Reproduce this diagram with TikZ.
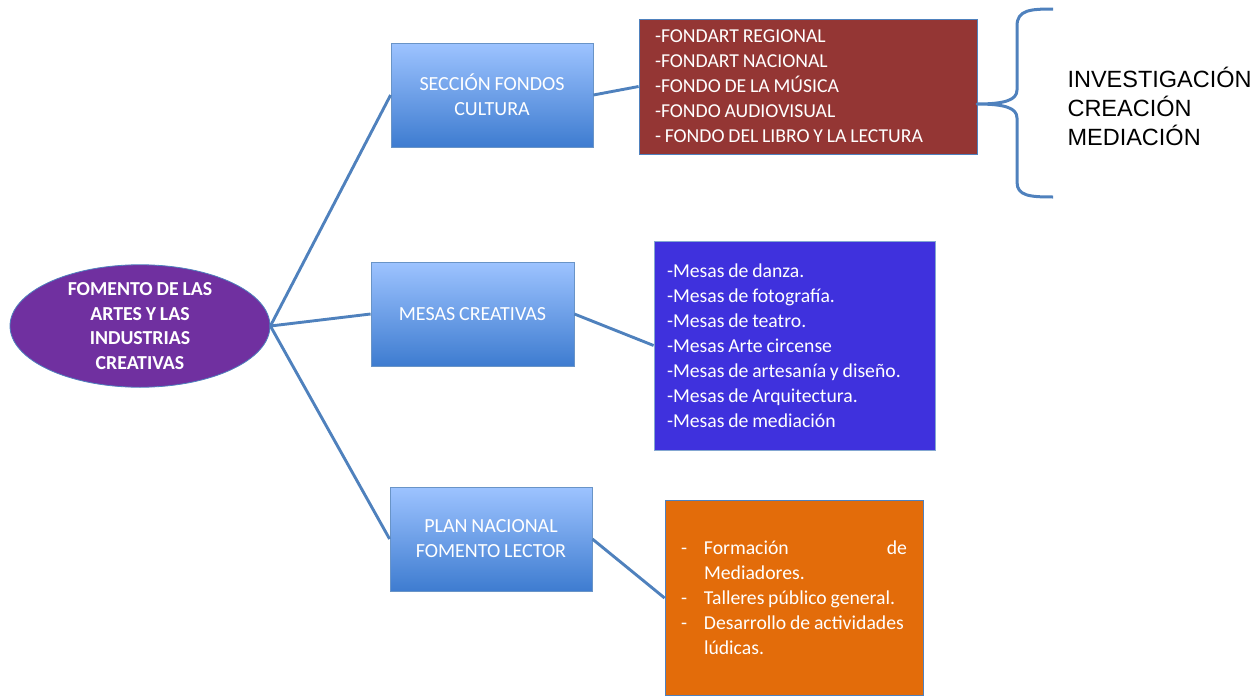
\documentclass[tikz,border=0pt]{standalone}
\usepackage{fontspec}
\setmainfont{Carlito}[WordSpace=0.85]
\newfontfamily\arialfont{Liberation Sans}
\usetikzlibrary{shapes.geometric}
\definecolor{linkblue}{HTML}{4F81BD}
\definecolor{boxtop}{HTML}{9DC3FF}
\definecolor{boxbot}{HTML}{3E7CD0}
\definecolor{purp}{HTML}{7030A0}
\definecolor{redbox}{HTML}{943634}
\definecolor{bluebox}{HTML}{3F31DD}
\definecolor{orangebox}{HTML}{E36C0A}
\newcommand{\natsp}{\spaceskip=0pt\xspaceskip=0pt\hyphenpenalty=10000\relax}
\tikzset{
  gradbox/.style={draw=linkblue!85!white, line width=0.8pt, top color=boxtop, bottom color=boxbot,
    minimum width=202pt, minimum height=104pt, inner sep=0pt, align=center, text=white,
    font=\fontsize{20}{25}\selectfont},
  listbox/.style={draw=linkblue, line width=0.8pt, inner ysep=0pt, align=left, text=white,
    font=\fontsize{19.7}{25}\selectfont},
  link/.style={draw=linkblue, line width=2.9pt},
}
\begin{document}
\begin{tikzpicture}[x=1pt,y=-1pt]
\useasboundingbox (0,0) rectangle (1258,696);

\node[ellipse, draw=linkblue, line width=0.8pt, fill=purp, minimum width=260pt, minimum height=117pt,
  inner sep=0pt, align=center, text=white, font=\bfseries\fontsize{19.8}{24.5}\selectfont]
  (root) at (140,326) {FOMENTO DE LAS\\ARTES Y LAS\\INDUSTRIAS\\CREATIVAS};

\node[gradbox] (b1) at (492,95) {SECCIÓN FONDOS\\CULTURA};
\node[gradbox, minimum width=203pt] (b2) at (472.5,314) {MESAS CREATIVAS};
\node[gradbox] (b3) at (491,539) {PLAN NACIONAL\\FOMENTO LECTOR};

\node[listbox, fill=redbox, text width=306pt, inner xsep=16pt, minimum height=135pt] (red) at (808,86.5)
  {\natsp -FONDART REGIONAL\\-FONDART NACIONAL\\-FONDO DE LA MÚSICA\\-FONDO AUDIOVISUAL\\- FONDO DEL LIBRO Y LA LECTURA};

\node[listbox, fill=bluebox, draw=linkblue!70!white, text width=255pt, inner xsep=13pt, minimum height=209pt] (blue) at (794.5,345.5)
  {\natsp -Mesas de danza.\\-Mesas de fotografía.\\-Mesas de teatro.\\-Mesas Arte circense\\-Mesas de artesanía y diseño.\\-Mesas de Arquitectura.\\-Mesas de mediación};

\node[listbox, fill=orangebox, text width=226pt, inner xsep=16pt, minimum height=195pt] (orange) at (794,598)
  {\natsp\makebox[23pt][l]{-}Formación\hfill de\\
   \hspace*{23pt}Mediadores.\\
   \makebox[23pt][l]{-}Talleres público general.\\
   \makebox[23pt][l]{-}Desarrollo de actividades\\
   \hspace*{23pt}lúdicas.};

\draw[link] (root.east) -- (b1.west);
\draw[link] (root.east) -- (b2.west);
\draw[link] (root.east) -- (b3.west);
\draw[link] (b1.east) -- (red.west);
\draw[link] (b2.east) -- (blue.west);
\draw[link] (b3.east) -- (orange.west);

\coordinate (brtip) at (977,104);
\coordinate (brtop) at (1053,9);
\coordinate (brbot) at (1053,197);
\draw[link, line width=3pt, line join=round]
  (brtop) .. controls (1030,9) and (1017,10) .. (1017,26) -- (1017,90)
  .. controls (1017,100) and (1005,104) .. (brtip)
  .. controls (1005,104) and (1017,108) .. (1017,118) -- (1017,182)
  .. controls (1017,196) and (1030,197) .. (brbot);

\node[anchor=west, align=left, font=\arialfont\fontsize{23.5}{29}\selectfont] (res) at (1064,106)
  {INVESTIGACIÓN\\CREACIÓN\\MEDIACIÓN};
\end{tikzpicture}
\end{document}
